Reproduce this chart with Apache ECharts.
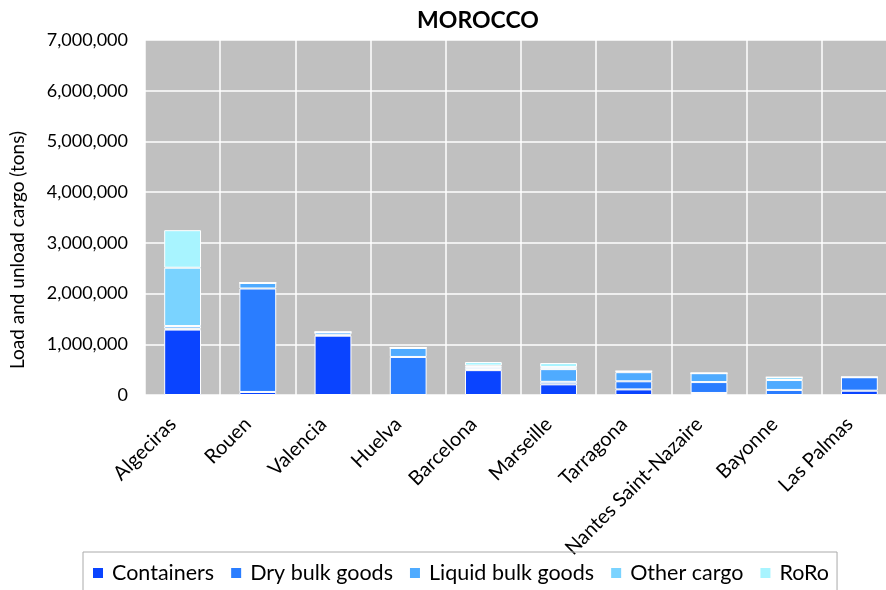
<!DOCTYPE html>
<html>
<head>
<meta charset="utf-8">
<script src="https://cdn.jsdelivr.net/npm/echarts@6/dist/echarts.min.js"></script>
<style>
  html, body { margin: 0; padding: 0; background: #fff; }
  #chart { width: 886px; height: 590px; }
</style>
</head>
<body>
<div id="chart"></div>
<script>
const categories = ['Algeciras', 'Rouen', 'Valencia', 'Huelva', 'Barcelona', 'Marseille', 'Tarragona', 'Nantes Saint-Nazaire', 'Bayonne', 'Las Palmas'];
const containers = [1290000, 60000, 1170000, 0, 490000, 210000, 110000, 40000, 0, 85000];
const dryBulk    = [20000, 2040000, 20000, 750000, 20000, 50000, 160000, 215000, 100000, 265000];
const liquidBulk = [50000, 110000, 50000, 180000, 40000, 250000, 180000, 175000, 195000, 0];
const otherCargo = [1150000, 0, 0, 0, 30000, 40000, 20000, 0, 55000, 0];
const roro       = [740000, 0, 0, 0, 70000, 80000, 0, 0, 0, 0];
const seriesNames = ['Containers', 'Dry bulk goods', 'Liquid bulk goods', 'Other cargo', 'RoRo'];
const seriesColors = ['#0a44ff', '#2a7dff', '#4fabff', '#7ad3ff', '#a8f4ff'];
const yTicks = { min: 0, max: 7000000, interval: 1000000 };

const font = 'Lato, "Open Sans", sans-serif';
const chart = echarts.init(document.getElementById('chart'), null, { renderer: 'canvas' });
const dataSets = [containers, dryBulk, liquidBulk, otherCargo, roro];

chart.setOption({
  animation: false,
  backgroundColor: '#ffffff',
  textStyle: { fontFamily: font, color: '#000' },
  title: {
    text: 'MOROCCO',
    left: 473, top: 4, textAlign: 'center',
    textStyle: { fontFamily: font, fontSize: 23, fontWeight: 'bold', color: '#000' }
  },
  grid: {
    left: 145, top: 40, width: 752, height: 355,
    outerBoundsMode: 'none', containLabel: false,
    show: true, backgroundColor: '#c0c0c0', borderWidth: 0
  },
  legend: {
    left: 83, top: 552,
    data: seriesNames,
    icon: 'rect', itemWidth: 12, itemHeight: 12, itemGap: 15,
    borderColor: '#aaaaaa', borderWidth: 1,
    padding: [10, 8, 14, 8],
    textStyle: { fontFamily: font, fontSize: 21.5, color: '#000', padding: [0, 0, 0, 3] }
  },
  xAxis: {
    type: 'category',
    data: categories,
    boundaryGap: true,
    axisLine: { show: false },
    axisTick: { show: false },
    splitLine: { show: true, interval: 0, lineStyle: { color: '#ffffff', width: 1.5 } },
    axisLabel: {
      interval: 0, rotate: 45, margin: 16,
      padding: [0, 14, 0, 0],
      fontFamily: font, fontSize: 20, color: '#000'
    }
  },
  yAxis: {
    type: 'value',
    min: yTicks.min, max: yTicks.max, interval: yTicks.interval,
    axisLine: { show: false },
    axisTick: { show: false },
    splitLine: { show: true, lineStyle: { color: '#ffffff', width: 1.5 } },
    axisLabel: {
      margin: 17, fontFamily: font, fontSize: 18, color: '#000',
      formatter: v => v.toLocaleString('en-US')
    }
  },
  graphic: [{
    type: 'text',
    x: 18, y: 250, rotation: Math.PI / 2,
    style: {
      text: 'Load and unload cargo (tons)',
      font: '19px ' + font,
      fill: '#000', textAlign: 'center', textVerticalAlign: 'middle'
    }
  }],
  series: seriesNames.map((n, i) => ({
    name: n,
    type: 'bar',
    stack: 'total',
    barWidth: '49%',
    data: dataSets[i],
    itemStyle: { color: seriesColors[i], borderColor: '#ffffff', borderWidth: 1 }
  }))
});
</script>
</body>
</html>
